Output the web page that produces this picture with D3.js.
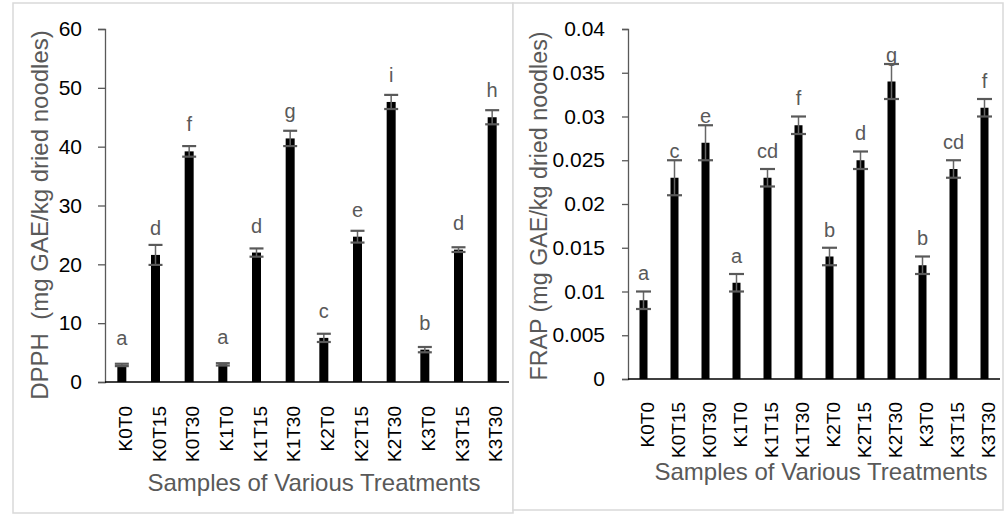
<!DOCTYPE html>
<html>
<head>
<meta charset="utf-8">
<script src="https://cdn.jsdelivr.net/npm/d3@7/dist/d3.min.js"></script>
<style>
  html, body { margin: 0; padding: 0; background: #fff; }
  svg { display: block; font-family: "Liberation Sans", Arial, sans-serif; }
</style>
</head>
<body>
<svg id="chart" width="1005" height="516"></svg>
<script>
const categories = ["K0T0","K0T15","K0T30","K1T0","K1T15","K1T30","K2T0","K2T15","K2T30","K3T0","K3T15","K3T30"];

const dpphValues  = [2.9, 21.6, 39.2, 3.0, 22.0, 41.4, 7.5, 24.7, 47.6, 5.5, 22.5, 45.0];
const dpphErrors  = [0.2, 1.7, 0.9, 0.2, 0.7, 1.3, 0.7, 1.0, 1.2, 0.45, 0.4, 1.2];
const dpphLetters = ["a","d","f","a","d","g","c","e","i","b","d","h"];
const dpphTicks   = [0, 10, 20, 30, 40, 50, 60];
const dpphTickLabels = ["0","10","20","30","40","50","60"];

const frapValues  = [0.009, 0.023, 0.027, 0.011, 0.023, 0.029, 0.014, 0.025, 0.034, 0.013, 0.024, 0.031];
const frapErrors  = [0.001, 0.002, 0.002, 0.001, 0.001, 0.001, 0.001, 0.001, 0.002, 0.001, 0.001, 0.001];
const frapLetters = ["a","c","e","a","cd","f","b","d","g","b","cd","f"];
const frapTicks   = [0, 0.005, 0.01, 0.015, 0.02, 0.025, 0.03, 0.035, 0.04];
const frapTickLabels = ["0","0.005","0.01","0.015","0.02","0.025","0.03","0.035","0.04"];

const xTitle = "Samples of Various Treatments";
const dpphTitle = "DPPH\u00a0\u00a0(mg GAE/kg dried noodles)";
const frapTitle = "FRAP (mg GAE/kg dried noodles)";

const svg = d3.select("#chart");

function panel(cfg) {
  svg.append("rect")
    .attr("x", cfg.frame[0]).attr("y", cfg.frame[1])
    .attr("width", cfg.frame[2]).attr("height", cfg.frame[3])
    .attr("fill", "#fff").attr("stroke", "#d9d9d9").attr("stroke-width", 1.5);

  const x = d3.scaleBand().domain(categories).range(cfg.xRange).padding(0);
  const y = d3.scaleLinear().domain([0, cfg.max]).range(cfg.yRange);
  const g = svg.append("g");
  const cx = i => x(categories[i]) + x.bandwidth() / 2;

  const yAxis = d3.axisLeft(y).tickValues(cfg.ticks)
    .tickFormat((d, i) => cfg.tickLabels[i])
    .tickSize(cfg.tickSize).tickPadding(cfg.tickPadding);
  const ya = g.append("g").attr("transform", `translate(${cfg.xRange[0]},0)`).call(yAxis);
  ya.select(".domain").attr("stroke", "#595959").attr("stroke-width", 1.3);
  ya.selectAll(".tick line").attr("stroke", "#595959").attr("stroke-width", 1.3);
  ya.selectAll(".tick text").attr("font-size", 21).attr("fill", "#000")
    .attr("font-family", "Liberation Sans, Arial, sans-serif");

  const bw = cfg.barWidth;
  g.selectAll(".bar").data(cfg.values).enter().append("rect")
    .attr("x", (d, i) => cx(i) - bw / 2)
    .attr("y", d => y(d))
    .attr("width", bw)
    .attr("height", d => y(0) - y(d))
    .attr("fill", "#000");

  g.append("line")
    .attr("x1", cfg.xRange[0]).attr("x2", cfg.xRange[1])
    .attr("y1", y(0)).attr("y2", y(0))
    .attr("stroke", "#000").attr("stroke-width", 1.3);

  const cw = cfg.capWidth;
  const eb = g.selectAll(".err").data(cfg.values).enter().append("g");
  eb.append("line")
    .attr("x1", (d, i) => cx(i)).attr("x2", (d, i) => cx(i))
    .attr("y1", (d, i) => y(d + cfg.errors[i]))
    .attr("y2", (d, i) => y(d - cfg.errors[i]))
    .attr("stroke", "#666").attr("stroke-width", 1.5);
  [1, -1].forEach(s => {
    eb.append("line")
      .attr("x1", (d, i) => cx(i) - cw / 2)
      .attr("x2", (d, i) => cx(i) + cw / 2)
      .attr("y1", (d, i) => y(d + s * cfg.errors[i]))
      .attr("y2", (d, i) => y(d + s * cfg.errors[i]))
      .attr("stroke", "#595959").attr("stroke-width", 2.2);
  });

  g.selectAll(".lbl").data(cfg.values).enter().append("text")
    .attr("x", (d, i) => cx(i))
    .attr("y", d => y(d) - 20)
    .attr("text-anchor", "middle")
    .attr("font-size", 20).attr("fill", "#595959")
    .text((d, i) => cfg.letters[i]);

  g.selectAll(".cat").data(categories).enter().append("text")
    .attr("transform", (d, i) => `translate(${cx(i)},${y(0) + cfg.catOffset}) rotate(-90)`)
    .attr("dy", "0.53em")
    .attr("text-anchor", "end")
    .attr("font-size", 19).attr("fill", "#000")
    .text(d => d);

  g.append("text")
    .attr("x", cfg.xTitlePos[0]).attr("y", cfg.xTitlePos[1])
    .attr("text-anchor", "middle")
    .attr("font-size", 24).attr("fill", "#595959")
    .text(xTitle);

  g.append("text")
    .attr("transform", `translate(${cfg.yTitlePos[0]},${cfg.yTitlePos[1]}) rotate(-90)`)
    .attr("text-anchor", "middle")
    .attr("font-size", cfg.yTitleSize).attr("fill", "#595959")
    .text(cfg.yTitle);
}

panel({
  frame: [13, 3, 500, 510],
  xRange: [105, 509], yRange: [382, 29], max: 60,
  ticks: dpphTicks, tickLabels: dpphTickLabels, tickSize: 7, tickPadding: 16,
  values: dpphValues, errors: dpphErrors, letters: dpphLetters,
  barWidth: 9, capWidth: 14, catOffset: 24,
  xTitlePos: [314, 491], yTitlePos: [48, 215], yTitleSize: 24, yTitle: dpphTitle
});

panel({
  frame: [513, 3, 490, 507],
  xRange: [628, 1000], yRange: [379, 29], max: 0.04,
  ticks: frapTicks, tickLabels: frapTickLabels, tickSize: 6, tickPadding: 17,
  values: frapValues, errors: frapErrors, letters: frapLetters,
  barWidth: 8, capWidth: 15, catOffset: 23,
  xTitlePos: [821, 480], yTitlePos: [547, 206], yTitleSize: 23.3, yTitle: frapTitle
});
</script>
</body>
</html>
